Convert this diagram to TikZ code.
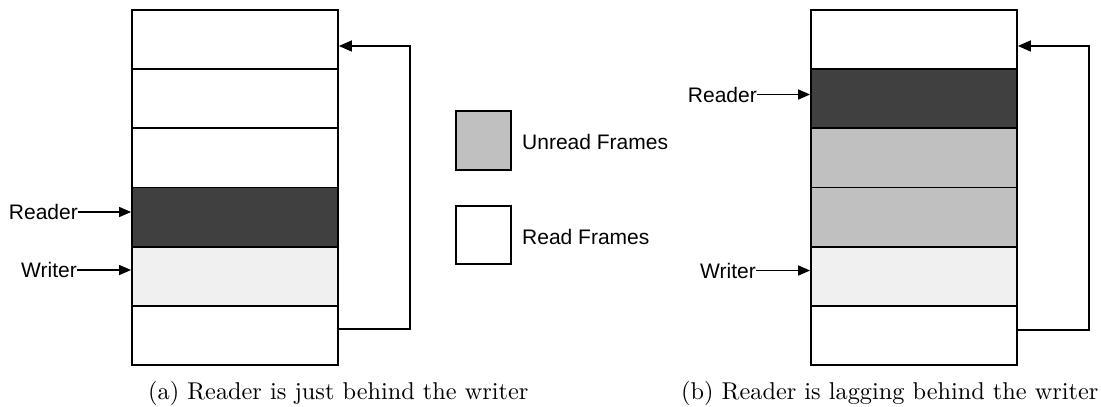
\documentclass[tikz,border=0pt]{standalone}
\usepackage{fontspec}
\usepackage{graphicx}
\newfontfamily\labelfont{Liberation Sans}
\usetikzlibrary{arrows.meta}
\definecolor{readerfill}{HTML}{404040}
\definecolor{unreadfill}{HTML}{C0C0C0}
\definecolor{writerfill}{HTML}{F0F0F0}
\tikzset{
  frame/.style={draw=black, line width=1.8pt, inner sep=0pt,
    minimum width=206pt, minimum height=59.17pt},
  legendbox/.style={draw=black, line width=1.8pt, inner sep=0pt,
    minimum width=55pt, minimum height=59pt},
  lbl/.style={font=\labelfont\fontsize{21}{25}\selectfont, inner sep=0pt},
  ptr/.style={line width=1.4pt, -{Triangle[length=12pt,width=10pt]}},
  loop/.style={line width=1.7pt, -{Triangle[length=13pt,width=11pt]}},
  caption/.style={inner sep=0pt, anchor=base west}
}
\begin{document}
\begin{tikzpicture}[x=1pt, y=-1pt]
\useasboundingbox (0,0) rectangle (1101,407);

% (a) ring buffer: reader right behind the writer
\foreach \i/\c in {1/white, 2/white, 3/white, 4/readerfill, 5/writerfill, 6/white}
  \node[frame, fill=\c] (la\i) at (235, {10 + 59.17*(\i-0.5)}) {};

\node[lbl, anchor=east] (ra) at (78,212) {Reader};
\node[lbl, anchor=east] (wa) at (77,270) {Writer};
\draw[ptr] (ra.east) -- (ra.east -| la4.west);
\draw[ptr] (wa.east) -- (wa.east -| la5.west);
\draw[loop] ([yshift=6.5pt]la6.east) -- ++(71,0) |- ([yshift=-6.4pt]la1.east);

% legend
\node[legendbox, fill=unreadfill] (lgu) at (483.5,140.5) {};
\node[legendbox, fill=white, minimum height=58pt] (lgr) at (483.5,235) {};
\node[lbl, anchor=west] (lgut) at (522,142) {Unread Frames};
\node[lbl, anchor=west] (lgrt) at (522,237) {Read Frames};

% (b) ring buffer: reader lagging behind the writer
\foreach \i/\c in {1/white, 2/readerfill, 3/unreadfill, 4/unreadfill, 5/writerfill, 6/white}
  \node[frame, fill=\c] (rb\i) at (914, {10 + 59.17*(\i-0.5)}) {};

\node[lbl, anchor=east] (rbr) at (757,94.5) {Reader};
\node[lbl, anchor=east] (rbw) at (756,270.5) {Writer};
\draw[ptr] (rbr.east) -- (rbr.east -| rb2.west);
\draw[ptr] (rbw.east) -- (rbw.east -| rb5.west);
\draw[loop] ([yshift=5.6pt]rb6.east) -- ++(71,0) |- ([yshift=-6.4pt]rb1.east);

% sub-captions
\node[caption] (capa) at (148,399) {\scalebox{2.43}{(a) Reader is just behind the writer}};
\node[caption] (capb) at (681,399) {\scalebox{2.43}{(b) Reader is lagging behind the writer}};
\end{tikzpicture}
\end{document}
